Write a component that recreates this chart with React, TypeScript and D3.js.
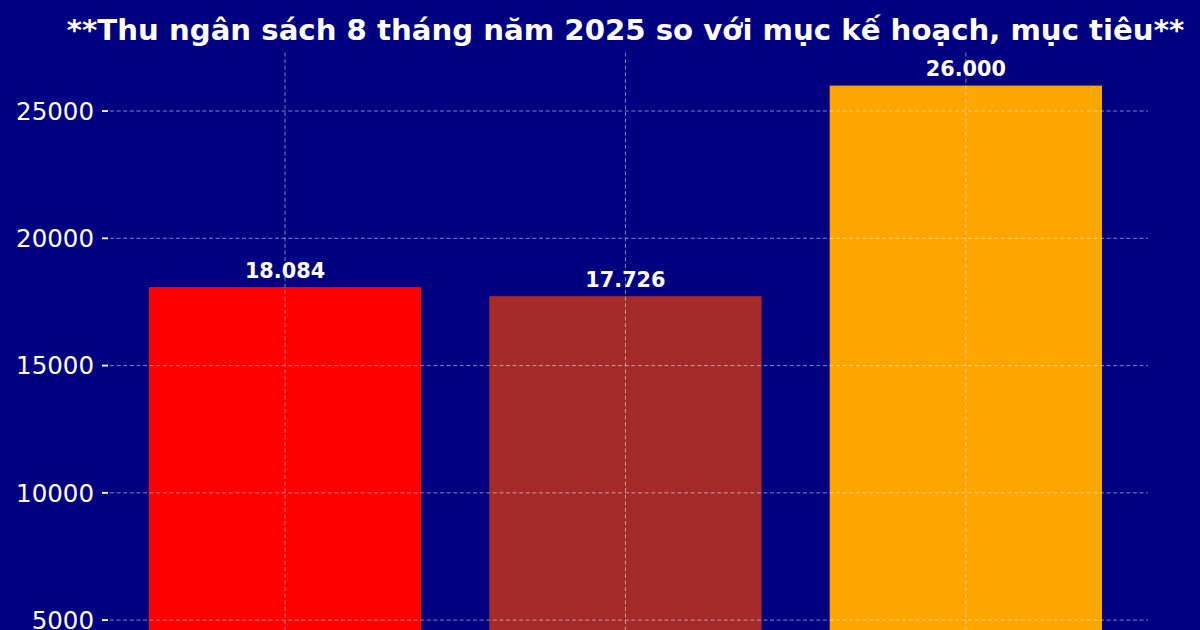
import React from "react";
import * as d3 from "d3";

const categories = ["Thu 8 tháng", "Kế hoạch", "Mục tiêu"];
const values = [18084, 17726, 26000];
const labels = ["18.084", "17.726", "26.000"];
const colors = ["#FF0000", "#A52A2A", "#FFA500"];
const yTicks = [5000, 10000, 15000, 20000, 25000];
const title = "**Thu ngân sách 8 tháng năm 2025 so với mục kế hoạch, mục tiêu**";

const W = 1200;
const H = 630;
const left = 108;
const right = 1148;
const top = 52.5;
const bottom = 747.4;

export default function App() {
  const x = d3.scaleLinear().domain([-0.52, 2.535]).range([left, right]);
  const y = d3.scaleLinear().domain([0, 27300]).range([bottom, top]);
  const unit = x(1) - x(0);
  const bw = unit * 0.8;
  const font = "DejaVu Sans, sans-serif";
  return (
    <svg width={W} height={H} style={{ position: "absolute", left: 0, top: 0 }}>
      <rect x={0} y={0} width={W} height={H} fill="#000080" />
      {values.map((v, i) => (
        <rect key={i} x={x(i) - bw / 2} y={y(v)} width={bw} height={bottom - y(v)} fill={colors[i]} />
      ))}
      {yTicks.map((t) => (
        <g key={t}>
          <line x1={left + 2} x2={right} y1={y(t)} y2={y(t)} stroke="#fff" strokeOpacity={0.5} strokeWidth={1} strokeDasharray="4,2.6" />
          <line x1={left - 6} x2={left} y1={y(t)} y2={y(t)} stroke="#fff" strokeWidth={1.8} />
          <text x={left - 14} y={y(t)} dy="0.36em" textAnchor="end" fill="#fff" fontFamily={font} fontSize={24.5}>{t}</text>
        </g>
      ))}
      {categories.map((c, i) => (
        <line key={c} x1={x(i)} x2={x(i)} y1={top} y2={H} stroke="#fff" strokeOpacity={0.5} strokeWidth={1} strokeDasharray="4,2.6" />
      ))}
      {values.map((v, i) => (
        <text key={i} x={x(i)} y={y(v) - 9.5} textAnchor="middle" fill="#fff" fontFamily={font} fontWeight="bold" fontSize={20.8}>{labels[i]}</text>
      ))}
      <text x={625.5} y={40} textAnchor="middle" fill="#fff" fontFamily={font} fontWeight="bold" fontSize={29.2}>{title}</text>
    </svg>
  );
}
